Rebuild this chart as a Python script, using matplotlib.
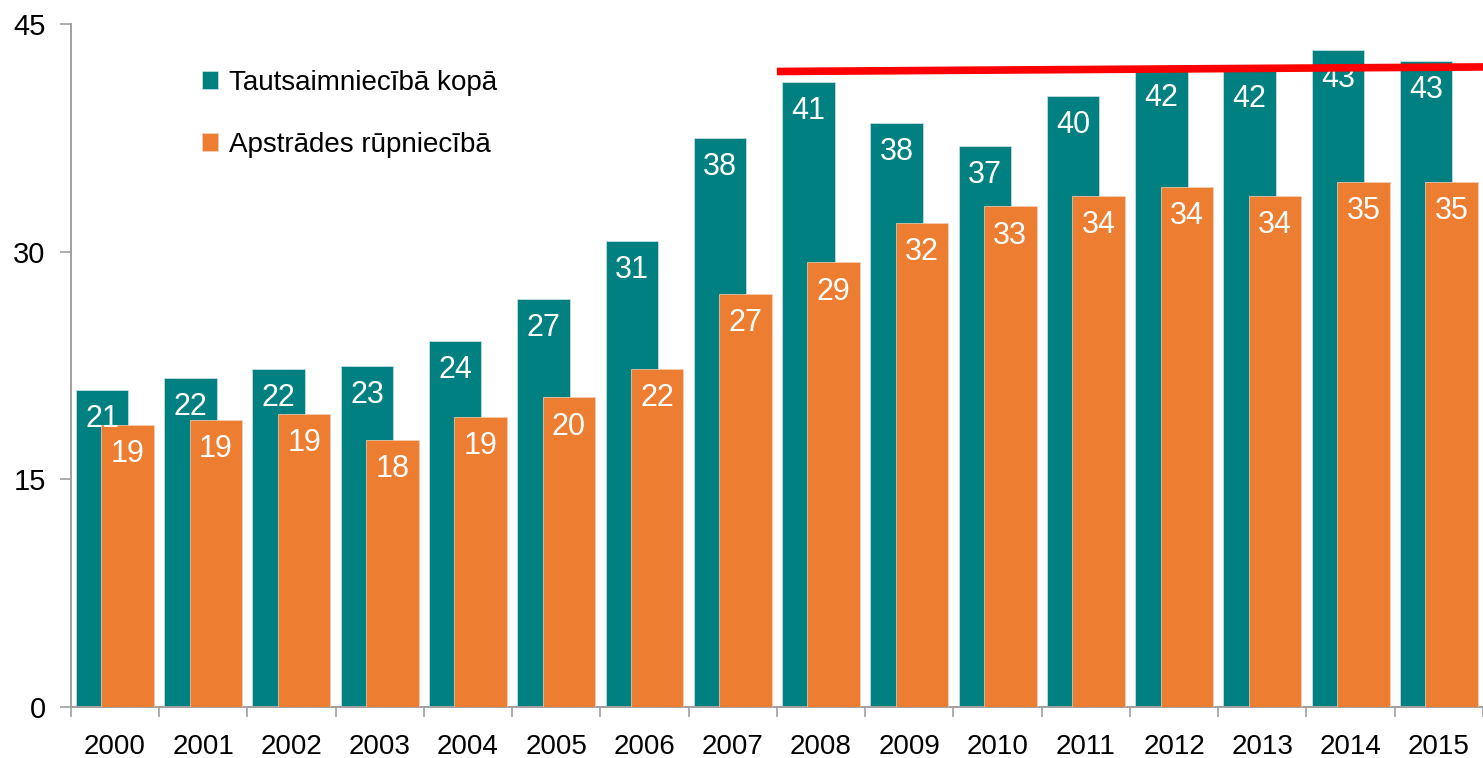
import numpy as np
import matplotlib
matplotlib.use("Agg")
import matplotlib.pyplot as plt

# data
years = ['2000', '2001', '2002', '2003', '2004', '2005', '2006', '2007',
         '2008', '2009', '2010', '2011', '2012', '2013', '2014', '2015']
total = [20.9, 21.7, 22.3, 22.5, 24.1, 26.9, 30.7, 37.5,
         41.2, 38.5, 37.0, 40.3, 42.1, 42.0, 43.3, 42.6]        # Tautsaimniecībā kopā
manuf = [18.6, 18.9, 19.3, 17.6, 19.1, 20.4, 22.3, 27.2,
         29.3, 31.9, 33.0, 33.7, 34.3, 33.7, 34.6, 34.6]        # Apstrādes rūpniecībā
total_labels = ['21', '22', '22', '23', '24', '27', '31', '38',
                '41', '38', '37', '40', '42', '42', '43', '43']
manuf_labels = ['19', '19', '19', '18', '19', '20', '22', '27',
                '29', '32', '33', '34', '34', '34', '35', '35']
series_names = ['Tautsaimniecībā kopā', 'Apstrādes rūpniecībā']
ref_line_x = [7.5, 15.5]       # red reference line, category units
ref_line_y = [41.9, 42.2]
y_ticks = [0, 15, 30, 45]

TEAL = '#008080'
ORANGE = '#ED7D31'
plt.rcParams['font.family'] = ['Liberation Sans', 'DejaVu Sans']

fig = plt.figure(figsize=(14.83, 7.58), dpi=100)
ax = fig.add_axes([0.0477, 0.0677, 0.9523, 0.9])

x = np.arange(len(years))
w = 0.595
off = 0.144
ax.bar(x - off, total, w, color=TEAL, edgecolor='#cfe3e3', linewidth=0.5,
       label=series_names[0], zorder=2)
ax.bar(x + off, manuf, w, color=ORANGE, edgecolor='#f6d2bb', linewidth=0.5,
       label=series_names[1], zorder=3)

# value labels inside the top of each bar
for xi, v, t in zip(x, total, total_labels):
    ax.annotate(t, (xi - off, v), xytext=(0, -21), textcoords='offset points',
                ha='center', va='center', color='white', fontsize=22, zorder=4)
for xi, v, t in zip(x, manuf, manuf_labels):
    ax.annotate(t, (xi + off, v), xytext=(0, -21), textcoords='offset points',
                ha='center', va='center', color='white', fontsize=22, zorder=4)

ax.plot(ref_line_x, ref_line_y, color='#FF0000', linewidth=5.5, solid_capstyle='butt',
        zorder=5, clip_on=False)

ax.set_xlim(-0.5, 15.5)
ax.set_ylim(0, 45)
ax.set_yticks(y_ticks)
ax.set_yticklabels([str(t) for t in y_ticks])
ax.set_xticks(x)
ax.set_xticklabels(years)
ax.set_xticks(np.arange(-0.5, 15.6, 1.0), minor=True)
ax.tick_params(axis='x', which='major', length=0, pad=20, labelsize=20)
ax.tick_params(axis='x', which='minor', length=7, color='#a0a0a0', width=1.2)
ax.tick_params(axis='y', length=8, color='#a0a0a0', width=1.2, labelsize=21, pad=10)

for s in ['top', 'right']:
    ax.spines[s].set_visible(False)
for s in ['left', 'bottom']:
    ax.spines[s].set_color('#a0a0a0')
    ax.spines[s].set_linewidth(1.4)

ax.legend(loc='upper left', bbox_to_anchor=(0.075, 0.97), frameon=False,
          fontsize=20, handlelength=0.6, handleheight=0.6, handletextpad=0.4,
          labelspacing=1.3)

fig.savefig('out.png', dpi=100)
